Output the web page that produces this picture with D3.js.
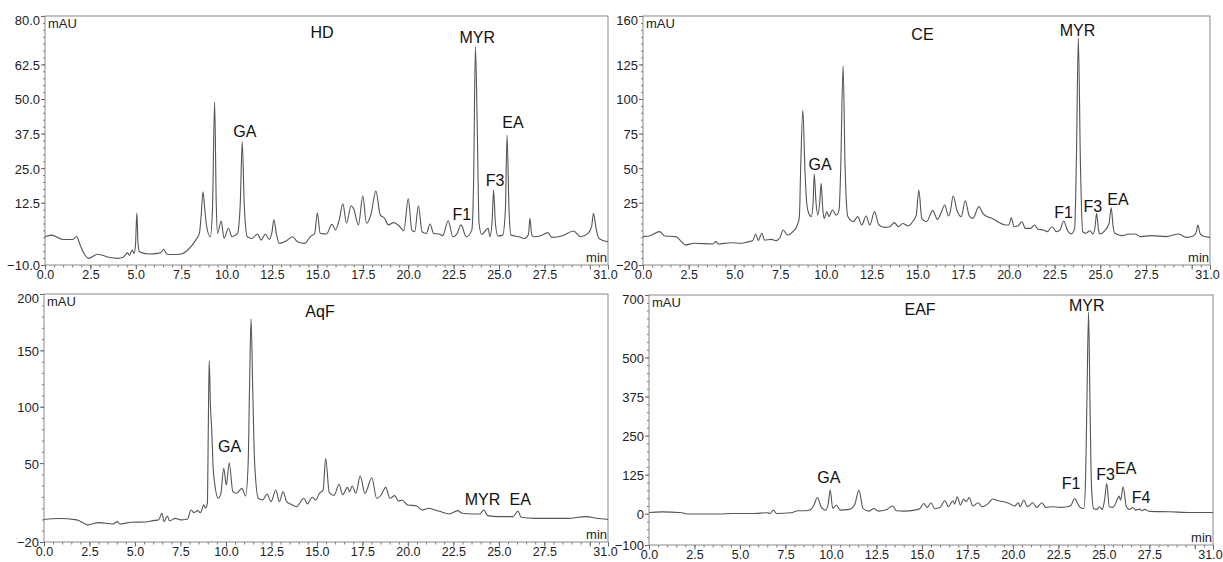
<!DOCTYPE html>
<html>
<head>
<meta charset="utf-8">
<script src="https://cdn.jsdelivr.net/npm/d3@7"></script>
<style>
body { margin: 0; background: #fff; }
svg { display: block; font-family: "Liberation Sans", Arial, Helvetica, sans-serif; }
</style>
</head>
<body>
<div id="chart"></div>
<script>
// retention time axis (min), shared by all four runs
const timeRange = [0, 31];
const timeTicks = [0, 2.5, 5, 7.5, 10, 12.5, 15, 17.5, 20, 22.5, 25, 27.5, 30, 31];
const timeLabels = ["0.0", "2.5", "5.0", "7.5", "10.0", "12.5", "15.0", "17.5", "20.0", "22.5", "25.0", "27.5", "", "31.0"];

// HD run: [time, mAU]
const hdTrace = [[0,0.2],[0.35,0.8],[1.0,-0.8],[1.5,-0.8],[1.75,0.3],[1.9,-2.2],[2.2,-6.4],[2.4,-7.6],[2.9,-6.1],[3.5,-7.2],[4.0,-7.6],[4.3,-7.2],[4.55,-5.6],[4.65,-6.5],[4.8,-4.6],[4.9,-5.8],[4.98,-3],[5.06,8.9],[5.12,-2],[5.2,-5.2],[5.7,-6.0],[6.2,-5.8],[6.4,-5.4],[6.54,-4.3],[6.7,-6.0],[7.0,-6.2],[7.5,-6.0],[7.9,-4.3],[8.3,-1],[8.5,1.4],[8.6,8],[8.7,16.5],[8.8,10],[8.9,4],[9.1,0.2],[9.22,10],[9.34,49],[9.43,12],[9.5,1.4],[9.7,5.9],[9.86,-0.3],[10.1,3.3],[10.3,0.2],[10.6,1.4],[10.75,12],[10.86,34.6],[10.97,12],[11.14,0.2],[11.4,-0.4],[11.7,1.2],[11.9,-1],[12.14,1.2],[12.34,-0.7],[12.5,2],[12.6,6.3],[12.75,1],[12.9,-2.2],[13.3,-1.2],[13.64,0.2],[13.9,-1.6],[14.3,-2.2],[14.6,0.2],[14.85,1.5],[15.0,8.9],[15.15,1.5],[15.5,1.2],[15.8,4.7],[16.0,2.7],[16.2,6.3],[16.4,12.1],[16.6,5.1],[16.86,11.4],[17.0,10.2],[17.26,4.5],[17.5,15],[17.7,5.1],[17.94,8.1],[18.22,16.7],[18.46,8.1],[18.7,6.9],[18.9,4.5],[19.2,5.3],[19.5,4.1],[19.76,2.4],[20.0,13.9],[20.2,2.6],[20.36,2],[20.56,11.4],[20.76,2],[21.0,1.4],[21.2,4.8],[21.4,1.4],[21.7,1.2],[21.9,0.6],[22.2,6],[22.46,0.2],[22.7,1.5],[22.9,4.5],[23.2,0.2],[23.5,2.6],[23.6,20],[23.7,69],[23.8,40],[23.9,5],[24.05,1],[24.2,2],[24.4,3.3],[24.5,0.2],[24.62,6],[24.7,17.1],[24.8,5],[24.94,0.5],[25.2,0.8],[25.35,10],[25.44,37],[25.55,10],[25.66,0.8],[26.1,0.2],[26.4,-0.4],[26.62,1],[26.7,6.9],[26.8,1],[26.9,0.2],[27.3,0.6],[27.7,1.7],[27.9,0],[28.5,0.6],[29.1,2.3],[29.5,0.2],[29.9,1.4],[30.1,4],[30.2,8.7],[30.35,3],[30.5,-0.4],[31,-1.6]];
const hdRange = [-10, 80];
const hdTicks = [-10, 12.5, 25, 37.5, 50, 62.5, 80];
const hdPeaks = [["HD",15.25,72],["GA",11.0,36.3],["MYR",23.8,70.1],["F1",22.95,6.3],["F3",24.78,18.6],["EA",25.77,39.6]];

// CE run
const ceTrace = [[0,0.5],[0.4,1.2],[0.9,4.1],[1.2,1],[1.8,0.5],[2.1,-3.1],[2.3,-5.5],[2.8,-4.3],[3.8,-4.8],[4.0,-3.1],[4.1,-4.8],[4.8,-3.9],[5.4,-4.3],[5.8,-3.1],[6.0,-2.5],[6.16,2.4],[6.3,-2.2],[6.5,2.9],[6.65,-2],[7.0,-1.5],[7.3,-2.4],[7.5,0],[7.66,5.3],[7.9,1.7],[8.2,4.1],[8.44,8.9],[8.55,15],[8.62,50],[8.74,92],[8.85,50],[8.95,25],[9.06,17.4],[9.2,15],[9.3,25],[9.36,45.8],[9.46,25],[9.56,16],[9.66,25],[9.74,39],[9.82,22],[9.9,13.7],[10.06,18.5],[10.16,15],[10.36,19.8],[10.56,16],[10.72,19.8],[10.8,45],[10.94,124],[11.05,50],[11.2,15],[11.5,11.3],[11.74,15],[11.96,8.9],[12.2,15.4],[12.4,8.9],[12.66,18.6],[12.9,8.9],[13.2,7.2],[13.5,7.7],[13.74,10.6],[13.96,7.7],[14.2,10],[14.5,8.2],[14.8,12.5],[14.94,16],[15.08,34.2],[15.24,13.7],[15.5,11.3],[15.84,19.3],[16.1,13],[16.3,17.8],[16.5,23.4],[16.7,15.4],[16.8,18.6],[16.96,29.9],[17.16,19.8],[17.4,15],[17.62,26.5],[17.84,15.4],[18.04,13.7],[18.36,22.2],[18.6,16.9],[18.8,15],[19.1,13.7],[19.4,11.3],[19.8,8.9],[20.0,8.9],[20.14,14.2],[20.28,7.7],[20.5,8.2],[20.72,11.3],[20.9,6.5],[21.2,6.5],[21.4,8.9],[21.6,5.8],[21.9,5.3],[22.1,4.1],[22.36,7.7],[22.6,4.1],[22.8,5.3],[23.0,11.8],[23.2,5.3],[23.4,2.4],[23.6,6.5],[23.7,60],[23.8,144],[23.92,50],[24.04,4.1],[24.2,2.9],[24.44,4.8],[24.6,2.4],[24.72,8],[24.8,17.4],[24.9,6],[24.96,2.4],[25.2,4.1],[25.48,10],[25.6,21.4],[25.7,8],[25.8,2.9],[26.2,1.2],[26.5,2.2],[26.9,2.4],[27.2,0.5],[27.8,1.2],[28.6,0.5],[29.3,2.4],[29.7,0],[30.1,1],[30.25,4],[30.34,8.9],[30.45,3],[30.6,1],[31,0]];
const ceRange = [-20, 160];
const ceTicks = [-20, 25, 50, 75, 100, 125, 160];
const cePeaks = [["CE",15.28,143],["GA",9.68,48.7],["MYR",23.76,145.5],["F1",23.0,13.8],["F3",24.6,18.5],["EA",25.97,23.4]];

// AqF run
const aqfTrace = [[0,0],[0.8,0.9],[1.8,-0.4],[2.2,-3.4],[2.4,-4.8],[3.0,-2.8],[3.8,-4],[4.04,-1.9],[4.15,-4],[4.8,-2.5],[5.6,-2.2],[6.0,-1],[6.3,-0.4],[6.48,5.5],[6.6,-1.9],[6.78,3.1],[6.9,-1.3],[7.22,1],[7.5,-0.4],[7.88,0.2],[8.08,8.4],[8.25,6],[8.44,7.8],[8.6,6],[8.78,12.9],[8.88,10],[8.98,14.3],[9.03,80],[9.08,141],[9.15,100],[9.22,79],[9.3,45],[9.38,32],[9.58,18.8],[9.72,23],[9.88,45.3],[10.02,30.6],[10.18,50.3],[10.38,24.7],[10.58,23.2],[10.88,27.6],[11.08,20.8],[11.22,49],[11.3,120],[11.38,178],[11.48,110],[11.58,49.7],[11.78,18.8],[12.02,17.3],[12.26,22.6],[12.48,15.8],[12.74,26.1],[12.94,15.8],[13.14,24.6],[13.34,15.8],[13.58,13.5],[13.88,11.4],[14.28,18.8],[14.48,13.8],[14.74,19.7],[14.94,17.3],[15.14,23.2],[15.34,26],[15.48,54.1],[15.68,23.8],[15.94,21.4],[16.22,31.2],[16.42,21.9],[16.68,28.5],[16.8,24.7],[16.94,29.7],[17.14,23.2],[17.38,38.5],[17.64,23.2],[18.02,37],[18.28,18.8],[18.54,21.9],[18.78,28.5],[19.02,18.8],[19.28,21.1],[19.48,16.4],[19.68,17.3],[19.98,12.9],[20.48,12],[20.78,8.4],[21.14,9.9],[21.48,8.4],[21.78,7],[22.28,4.9],[22.74,7.8],[22.98,5.5],[23.58,4.9],[23.94,4.9],[24.18,8.4],[24.38,3.4],[24.98,2.5],[25.78,2.5],[26.06,7.5],[26.22,1.9],[26.98,1],[27.78,1],[28.78,1],[29.78,2.5],[30.38,1],[31,0]];
const aqfRange = [-20, 200];
const aqfTicks = [-20, 50, 100, 150, 200];
const aqfPeaks = [["AqF",15.17,180],["GA",10.2,60.1],["MYR",24.1,12.8],["EA",26.17,12.8]];

// EAF run
const eafTrace = [[0,4],[0.7,6],[1.8,3],[2.2,-1],[3.8,-1],[4.6,1],[5.8,1],[6.5,3],[6.65,1],[6.84,11.7],[7.0,1],[7.8,3],[8.2,9.6],[8.6,9.6],[8.9,13.9],[9.06,27.8],[9.26,52],[9.46,22],[9.7,11.7],[9.84,27.8],[9.96,76],[10.1,17],[10.3,27.8],[10.5,11.7],[11.0,13.9],[11.3,27.8],[11.54,76],[11.76,17],[12.1,8.5],[12.36,17],[12.6,8.5],[13.0,11.7],[13.4,24.6],[13.6,9.6],[14.0,8.5],[14.6,11.7],[14.9,17],[15.1,33],[15.3,20.3],[15.5,35],[15.7,17],[16.0,20.3],[16.26,41.7],[16.46,22.4],[16.7,41.7],[16.8,30.9],[16.94,54.5],[17.12,27.8],[17.3,47],[17.44,38.5],[17.6,52],[17.8,24.6],[18.1,35],[18.3,22.4],[18.6,30.9],[18.9,47],[19.2,41.7],[19.5,38.5],[19.8,33],[20.1,24.6],[20.3,35],[20.4,22.4],[20.6,43.8],[20.8,22.4],[21.1,35],[21.3,20.3],[21.6,35],[21.8,20.3],[22.2,22.4],[22.6,20.3],[23.0,22.4],[23.2,27.8],[23.4,49],[23.56,33],[23.7,20.3],[23.9,17],[24.0,120],[24.08,400],[24.16,645],[24.24,350],[24.32,90],[24.44,17],[24.6,13.9],[24.76,22.4],[24.92,13.9],[25.04,43.8],[25.16,97],[25.3,22.4],[25.5,20.3],[25.76,49],[25.84,56.6],[25.92,43],[26.06,86.5],[26.24,22.4],[26.4,13.9],[26.6,20],[26.76,11.7],[26.96,14.9],[27.1,9.6],[27.24,13.9],[27.5,7.5],[28.6,6.4],[29.8,4],[31,4]];
const eafRange = [-100, 700];
const eafTicks = [-100, 0, 125, 250, 375, 500, 700];
const eafPeaks = [["EAF",14.9,636],["GA",9.88,99],["MYR",24.06,649],["F1",23.2,78],["F3",25.1,108],["EA",26.2,126],["F4",27.05,35]];

// layout of the four plot frames
const panels = [
    { trace: hdTrace, range: hdRange, ticks: hdTicks, minor: 2.5, fmt: d3.format(".1f"), box: { x: 45, y: 16, w: 563, h: 249 } },
    { trace: ceTrace, range: ceRange, ticks: ceTicks, minor: 5, fmt: d3.format("d"), box: { x: 643, y: 16, w: 567, h: 249 } },
    { trace: aqfTrace, range: aqfRange, ticks: aqfTicks, minor: 10, fmt: d3.format("d"), box: { x: 44, y: 294, w: 564, h: 248 } },
    { trace: eafTrace, range: eafRange, ticks: eafTicks, minor: 25, fmt: d3.format("d"), box: { x: 649, y: 295, w: 564, h: 250 } }
];
const peakLists = [hdPeaks, cePeaks, aqfPeaks, eafPeaks];

const svg = d3.select("#chart")
    .append("svg")
    .attr("width", 1223)
    .attr("height", 562);

svg.append("rect").attr("width", 1223).attr("height", 562).attr("fill", "#fff");

panels.forEach(function(p, i) {
    let g = svg.append("g")
        .attr("transform", `translate(${p.box.x}, ${p.box.y})`);

    let x = d3.scaleLinear().domain(timeRange).range([0, p.box.w]);
    let y = d3.scaleLinear().domain(p.range).range([p.box.h, 0]);

    // minor ticks
    let minorY = d3.range(p.range[0], p.range[1] + 1e-6, p.minor);
    g.append("g")
        .call(d3.axisLeft(y).tickValues(minorY).tickSize(2).tickFormat(""))
        .call(a => a.select(".domain").remove())
        .selectAll("line").attr("stroke", "#777");

    g.append("g")
        .attr("transform", `translate(0, ${p.box.h})`)
        .call(d3.axisBottom(x).tickValues(d3.range(0, 31.01, 0.5)).tickSize(2.5).tickFormat(""))
        .call(a => a.select(".domain").remove())
        .selectAll("line").attr("stroke", "#777");

    // major ticks + labels
    let yAxis = g.append("g")
        .call(d3.axisLeft(y).tickValues(p.ticks).tickSize(4).tickPadding(1).tickFormat(p.fmt));
    yAxis.select(".domain").remove();
    yAxis.selectAll("line").attr("stroke", "#666");
    yAxis.selectAll("text")
        .attr("font-size", 13)
        .attr("fill", "#222")
        .attr("font-family", "Liberation Sans, Arial, sans-serif")
        .attr("dy", d => d === p.range[1] ? "0.62em" : "0.38em");

    let xAxis = g.append("g")
        .attr("transform", `translate(0, ${p.box.h})`)
        .call(d3.axisBottom(x).tickValues(timeTicks).tickSize(4.5).tickPadding(1)
            .tickFormat((d, k) => timeLabels[k]));
    xAxis.select(".domain").remove();
    xAxis.selectAll("line").attr("stroke", "#666");
    xAxis.selectAll("text")
        .attr("font-size", 12.5)
        .attr("fill", "#222")
        .attr("font-family", "Liberation Sans, Arial, sans-serif")
        .attr("dx", d => d === timeRange[1] ? -3 : 0);

    // frame
    g.append("rect")
        .attr("width", p.box.w)
        .attr("height", p.box.h)
        .attr("fill", "none")
        .attr("stroke", "#8a8a8a")
        .attr("stroke-width", 1);

    g.append("text")
        .attr("x", 3).attr("y", 12)
        .attr("font-size", 13).attr("fill", "#222")
        .text("mAU");

    g.append("text")
        .attr("x", p.box.w - 1).attr("y", p.box.h - 3)
        .attr("text-anchor", "end")
        .attr("font-size", 13).attr("fill", "#222")
        .text("min");

    // chromatogram trace
    let line = d3.line()
        .x(d => x(d[0]))
        .y(d => y(d[1]))
        .curve(d3.curveMonotoneX);

    g.append("path")
        .datum(p.trace)
        .attr("d", line)
        .attr("fill", "none")
        .attr("stroke", "#555")
        .attr("stroke-width", 1.1)
        .attr("stroke-linejoin", "round");

    // peak names and sample title
    g.selectAll(".peak")
        .data(peakLists[i])
        .enter()
        .append("text")
        .attr("class", "peak")
        .attr("x", d => x(d[1]))
        .attr("y", d => y(d[2]))
        .attr("text-anchor", "middle")
        .attr("font-size", 16)
        .attr("fill", "#111")
        .text(d => d[0]);
});
</script>
</body>
</html>
